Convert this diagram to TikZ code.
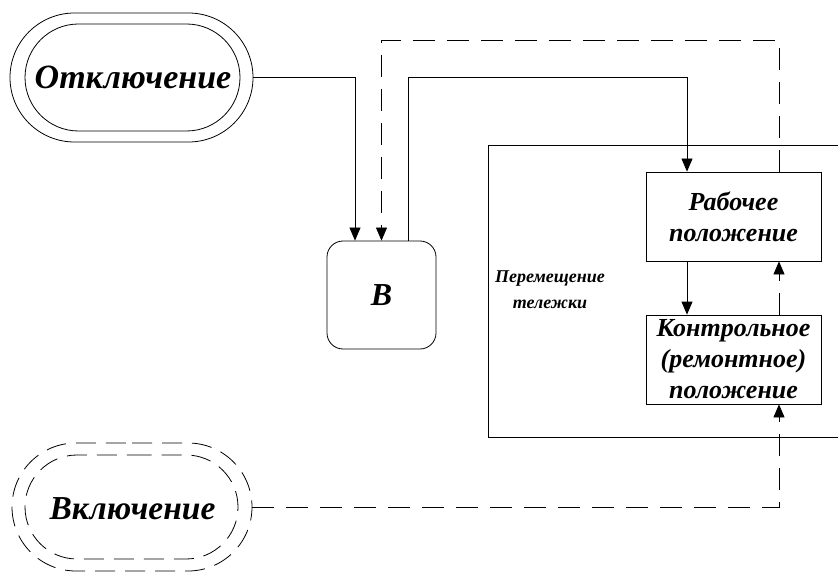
\documentclass[tikz,border=0pt]{standalone}
\usepackage{fontspec}
\setmainfont{Liberation Serif}
\usetikzlibrary{arrows.meta,shapes.misc}
\begin{document}
\begin{tikzpicture}[x=1pt,y=-1pt,line width=0.8pt,
  every node/.style={font=\bfseries\itshape},
  arr/.style={-{Triangle[length=13pt,width=11pt]}},
  dsh/.style={dash pattern=on 22pt off 12pt},
  stad/.style={rounded rectangle,draw,inner sep=0pt},
  posbox/.style={draw,rectangle,minimum width=175pt,minimum height=89pt,inner sep=2pt,align=center,font=\fontsize{26}{31}\selectfont\bfseries\itshape}]
\useasboundingbox (0,0) rectangle (838,572);
% Otklyuchenie
\node[stad,minimum width=243pt,minimum height=129pt] (offouter) at (131.5,77.5) {};
\node[stad,minimum width=215pt,minimum height=107pt] (offinner) at (132.5,77.5) {};
\node[font=\fontsize{34}{40}\selectfont\bfseries\itshape] (offtext) at (133,77.5) {Отключение};
% Vklyuchenie
\node[stad,dash pattern=on 20pt off 10pt,minimum width=240pt,minimum height=128pt] (onouter) at (132,507) {};
\node[stad,dash pattern=on 20pt off 10pt,minimum width=213pt,minimum height=104pt] (oninner) at (131.5,507) {};
\node[font=\fontsize{33.5}{40}\selectfont\bfseries\itshape] (ontext) at (132.5,509) {Включение};
% B
\node[draw,rounded corners=16pt,minimum width=109pt,minimum height=108pt,font=\fontsize{32}{36}\selectfont\bfseries\itshape] (B) at (381.5,295) {B};
% big frame
\coordinate (frTR) at (838,145);
\coordinate (frTL) at (488,145);
\coordinate (frBL) at (488,437);
\coordinate (frBR) at (838,437);
\draw (frTR) -- (frTL) -- (frBL) -- (frBR);
\node[align=center,font=\fontsize{18}{26}\selectfont\bfseries\itshape] (move) at (550,290) {Перемещение\\тележки};
% position boxes
\node[posbox] (rab) at (733.5,216.5) {Рабочее\\положение};
\node[posbox] (kon) at (733.5,359.5) {Контрольное\\(ремонтное)\\положение};
% connectors
\coordinate (xa) at (687,0);
\coordinate (xb) at (779,0);
\coordinate (xl) at (355,0);
\coordinate (xr) at (408,0);
\coordinate (ytop) at (0,40);
\coordinate (ymid) at (0,77);
\draw[arr] (offouter.east) -| (B.north -| xl);
\draw[arr,dsh] (rab.north -| xb) -- (xb |- ytop) -| (B.north);
\draw[arr] (B.north -| xr) -- (xr |- ymid) -| (rab.north -| xa);
\draw[arr] (rab.south -| xa) -- (kon.north -| xa);
\draw[arr,dsh] (kon.north -| xb) -- (rab.south -| xb);
\draw[arr,dsh] (onouter.east) -- (onouter.east -| xb) -- (kon.south -| xb);
\end{tikzpicture}
\end{document}
